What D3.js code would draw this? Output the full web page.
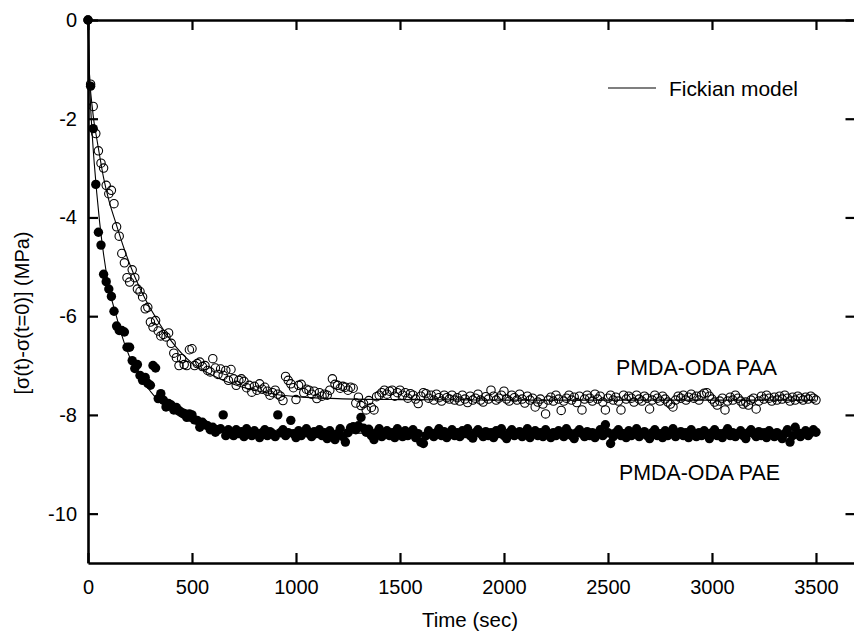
<!DOCTYPE html>
<html>
<head>
<meta charset="utf-8">
<script src="https://cdn.jsdelivr.net/npm/d3@7"></script>
<style>
  html, body { margin: 0; padding: 0; background: #fff; }
  svg { display: block; }
  text { font-family: "Liberation Sans", Arial, Helvetica, sans-serif; fill: #000; }
</style>
</head>
<body>
<svg id="chart" width="854" height="634"></svg>
<script>
// ---- data ----
const sampleStep = 12.5; // seconds between measurements

// PMDA-ODA PAA (open circles)
const paaValues = [
  0, -1.3, -1.75, -2.3, -2.65, -2.9, -3.0, -3.35, -3.52, -3.45,
  -3.72, -4.19, -4.38, -4.73, -4.92, -5.22, -5.31, -5.06, -5.22, -5.45,
  -5.5, -5.61, -5.85, -5.82, -6.12, -6.22, -6.09, -6.3, -6.4, -6.37,
  -6.42, -6.34, -6.55, -6.75, -6.84, -7.0, -6.86, -6.98, -7.0, -6.68,
  -6.66, -7.0, -6.96, -6.93, -7.02, -7.0, -7.1, -7.13, -6.86, -7.05,
  -7.18, -7.07, -7.2, -7.1, -7.3, -7.08, -7.27, -7.4, -7.3, -7.27,
  -7.32, -7.45, -7.4, -7.54, -7.42, -7.5, -7.37, -7.48, -7.44, -7.52,
  -7.6, -7.55, -7.5, -7.58, -7.62, -7.71, -7.22, -7.3, -7.37, -7.45,
  -7.69, -7.4, -7.38, -7.55, -7.48, -7.5, -7.58, -7.52, -7.67, -7.55,
  -7.62, -7.58, -7.6, -7.5, -7.27, -7.38, -7.4, -7.46, -7.42, -7.44,
  -7.5, -7.44, -7.46, -7.76, -7.64, -7.81, -7.77, -7.9, -7.71, -7.85,
  -7.9, -7.63, -7.6, -7.55, -7.5, -7.58, -7.52, -7.5, -7.62, -7.55,
  -7.5, -7.6, -7.55, -7.66, -7.57, -7.6, -7.68, -7.77, -7.62, -7.55,
  -7.57, -7.66, -7.6, -7.7, -7.58, -7.65, -7.72, -7.6, -7.65, -7.68,
  -7.6, -7.7,
  -7.65, -7.72, -7.6, -7.68, -7.75, -7.62, -7.7, -7.66, -7.58, -7.7,
  -7.74, -7.63, -7.68, -7.5, -7.62, -7.7, -7.66, -7.6, -7.52, -7.68,
  -7.72, -7.6, -7.65, -7.7, -7.58, -7.68, -7.76, -7.62, -7.7, -7.66,
  -7.84, -7.74, -7.68, -7.78, -7.98, -7.7, -7.64, -7.72, -7.6, -7.68,
  -7.91, -7.72, -7.66, -7.6, -7.7, -7.64, -7.75, -7.62, -7.9, -7.68,
  -7.6, -7.66, -7.72, -7.58, -7.68, -7.62, -7.74, -7.9, -7.66, -7.6,
  -7.7, -7.64, -7.72, -7.9, -7.6, -7.68, -7.62, -7.66, -7.74, -7.6,
  -7.68, -7.72, -7.62, -7.66, -7.88, -7.7, -7.6, -7.66, -7.72, -7.62,
  -7.68, -7.74, -7.78, -7.84, -7.7, -7.62, -7.66, -7.6, -7.7, -7.64,
  -7.58, -7.66, -7.62, -7.7, -7.6, -7.56, -7.55, -7.62, -7.68, -7.74,
  -7.8, -7.72, -7.66, -7.9, -7.72, -7.64, -7.7, -7.6, -7.66, -7.72,
  -7.78, -7.74, -7.8, -7.7, -7.66, -7.88, -7.72, -7.62, -7.68, -7.6,
  -7.66, -7.72, -7.64, -7.7, -7.62, -7.68, -7.6, -7.66, -7.72, -7.64,
  -7.7, -7.62, -7.66, -7.7, -7.64, -7.68, -7.62, -7.66, -7.7
];

// PMDA-ODA PAE (filled circles)
const paeValues = [
  0, -1.34, -2.2, -3.33, -4.3, -4.56, -5.15, -5.3, -5.45, -5.6,
  -5.9, -6.2, -6.29, -6.29, -6.32, -6.63, -6.63, -6.9, -7.06, -6.98,
  -7.2, -7.3, -7.24, -7.36, -7.4, -7.0, -7.05, -7.67, -7.57, -7.7,
  -7.84, -7.77, -7.8, -7.9, -7.85, -7.91, -7.95, -7.97, -8.05, -7.98,
  -8.0, -8.1, -8.11, -8.25, -8.15, -8.2, -8.22, -8.3, -8.25, -8.35,
  -8.3, -8.28, -8.0, -8.42, -8.3, -8.36,
  -8.42, -8.3, -8.38, -8.34, -8.44, -8.28, -8.36, -8.42, -8.32, -8.38,
  -8.46, -8.36, -8.3, -8.42, -8.34, -8.38, -8.44, -8.0, -8.36, -8.3,
  -8.42, -8.36, -8.11, -8.38, -8.46, -8.32, -8.42, -8.36, -8.28, -8.38,
  -8.44, -8.34, -8.38, -8.3, -8.42, -8.36, -8.48, -8.32, -8.4, -8.5,
  -8.38, -8.28, -8.44, -8.55, -8.36, -8.26, -8.24, -8.3, -8.22, -8.05,
  -8.27, -8.35, -8.29, -8.42, -8.5, -8.36, -8.28, -8.44, -8.38, -8.32,
  -8.42, -8.36, -8.46, -8.28, -8.38, -8.44, -8.32, -8.42, -8.36, -8.3,
  -8.46, -8.38, -8.55, -8.58, -8.42, -8.32, -8.38, -8.44, -8.36, -8.28,
  -8.42, -8.34, -8.46, -8.38, -8.3, -8.42, -8.36, -8.44, -8.32, -8.38,
  -8.28, -8.42, -8.47, -8.36, -8.3, -8.38, -8.44, -8.34, -8.42, -8.36,
  -8.46, -8.32, -8.38, -8.28, -8.42, -8.48, -8.36, -8.3, -8.42, -8.38,
  -8.34, -8.44, -8.36, -8.28, -8.46, -8.38, -8.32, -8.42, -8.36, -8.44,
  -8.3, -8.38, -8.46, -8.36, -8.42, -8.32, -8.38, -8.44, -8.28, -8.36,
  -8.42, -8.48, -8.36, -8.3, -8.38, -8.44, -8.34, -8.42, -8.36, -8.46,
  -8.38, -8.3, -8.42, -8.2, -8.36, -8.58, -8.44, -8.36, -8.3, -8.42,
  -8.38, -8.46, -8.32, -8.42, -8.36, -8.28, -8.44, -8.38, -8.34, -8.42,
  -8.48, -8.36, -8.3, -8.42, -8.38, -8.46, -8.32, -8.42, -8.36, -8.28,
  -8.44, -8.38, -8.34, -8.42, -8.36, -8.46, -8.3, -8.38, -8.44, -8.36,
  -8.42, -8.32, -8.38, -8.48, -8.36, -8.3, -8.42, -8.38, -8.46, -8.36,
  -8.28, -8.42, -8.36, -8.44, -8.38, -8.32, -8.42, -8.48, -8.36, -8.3,
  -8.38, -8.44, -8.34, -8.42, -8.36, -8.46, -8.32, -8.38, -8.44, -8.36,
  -8.42, -8.48, -8.38, -8.3, -8.55, -8.42, -8.25, -8.36, -8.44, -8.38,
  -8.32, -8.42, -8.36, -8.3, -8.35
];

// Fickian model curves
const modelTimes = [0, 5, 10, 20, 30, 42, 56, 75, 100, 133, 175, 225, 275, 325, 400, 500, 600, 700, 800, 900, 1000, 1200, 1500, 2000, 2500, 3000, 3500];
const paaModel   = [0, -0.9, -1.3, -1.75, -2.1, -2.4, -2.75, -3.2, -3.65, -4.1, -4.65, -5.2, -5.65, -6.02, -6.5, -6.95, -7.2, -7.38, -7.5, -7.58, -7.63, -7.67, -7.69, -7.7, -7.7, -7.7, -7.7];
const paeModel   = [0, -0.8, -1.5, -2.3, -2.9, -3.5, -4.1, -4.75, -5.4, -5.95, -6.55, -7.05, -7.38, -7.65, -7.92, -8.15, -8.25, -8.3, -8.33, -8.35, -8.36, -8.37, -8.37, -8.37, -8.37, -8.37, -8.37];

const xTicks = [0, 500, 1000, 1500, 2000, 2500, 3000, 3500];
const yTicks = [0, -2, -4, -6, -8, -10];

// ---- drawing ----
const svg = d3.select("#chart");
const x = d3.scaleLinear().domain([0, 3690]).range([88, 855.5]);
const y = d3.scaleLinear().domain([-11, 0]).range([563, 20]);
const plain = d => String(d); // hyphen-minus, no thousands separator

const axisStyle = g => {
  g.select(".domain").attr("stroke", "#000").attr("stroke-width", 2.6);
  g.selectAll(".tick line").attr("stroke", "#000").attr("stroke-width", 2.2);
  g.selectAll(".tick text").attr("font-size", 20).attr("fill", "#000")
    .attr("font-family", "'Liberation Sans', Arial, sans-serif");
};

svg.append("g").attr("transform", `translate(0,${y(-11)})`)
  .call(d3.axisBottom(x).tickValues(xTicks).tickFormat(plain).tickSize(-10).tickSizeOuter(0).tickPadding(17))
  .call(axisStyle);
svg.append("g").attr("transform", `translate(0,${y(0)})`)
  .call(d3.axisTop(x).tickValues(xTicks).tickSize(-10).tickSizeOuter(0).tickFormat(""))
  .call(axisStyle);
svg.append("g").attr("transform", `translate(${x(0)},0)`)
  .call(d3.axisLeft(y).tickValues(yTicks).tickFormat(plain).tickSize(-10).tickSizeOuter(0).tickPadding(11))
  .call(axisStyle);
svg.append("g").attr("transform", `translate(${x(3690)},0)`)
  .call(d3.axisRight(y).tickValues(yTicks).tickSize(-10).tickSizeOuter(0).tickFormat(""))
  .call(axisStyle);

// model lines
const line = d3.line().x(d => x(d[0])).y(d => y(d[1])).curve(d3.curveMonotoneX);
[paaModel, paeModel].forEach(m => {
  svg.append("path")
    .datum(modelTimes.map((t, i) => [t, m[i]]))
    .attr("d", line)
    .attr("fill", "none")
    .attr("stroke", "#000")
    .attr("stroke-width", 1.1);
});

// PAA open circles
svg.append("g").selectAll("circle")
  .data(paaValues.map((v, i) => [i * sampleStep, v]))
  .join("circle")
  .attr("cx", d => x(d[0])).attr("cy", d => y(d[1])).attr("r", 4.2)
  .attr("fill", "none").attr("stroke", "#000").attr("stroke-width", 1.1);

// PAE filled circles
svg.append("g").selectAll("circle")
  .data(paeValues.map((v, i) => [i * sampleStep, v]))
  .join("circle")
  .attr("cx", d => x(d[0])).attr("cy", d => y(d[1])).attr("r", 4.7)
  .attr("fill", "#000");

// legend
svg.append("line").attr("x1", 608).attr("x2", 656).attr("y1", 88).attr("y2", 88)
  .attr("stroke", "#000").attr("stroke-width", 1.1);
svg.append("text").attr("x", 669).attr("y", 96).attr("font-size", 21)
  .attr("textLength", 129).attr("lengthAdjust", "spacingAndGlyphs").text("Fickian model");

// series labels
svg.append("text").attr("x", 616).attr("y", 375).attr("font-size", 22)
  .attr("textLength", 161).attr("lengthAdjust", "spacingAndGlyphs").text("PMDA-ODA PAA");
svg.append("text").attr("x", 619).attr("y", 480).attr("font-size", 22)
  .attr("textLength", 161).attr("lengthAdjust", "spacingAndGlyphs").text("PMDA-ODA PAE");

// axis titles
svg.append("text").attr("x", 470).attr("y", 627).attr("text-anchor", "middle")
  .attr("font-size", 20.5).text("Time (sec)");
svg.append("text").attr("transform", "translate(29,313) rotate(-90)")
  .attr("text-anchor", "middle").attr("font-size", 20).text("[σ(t)-σ(t=0)] (MPa)");
</script>
</body>
</html>
